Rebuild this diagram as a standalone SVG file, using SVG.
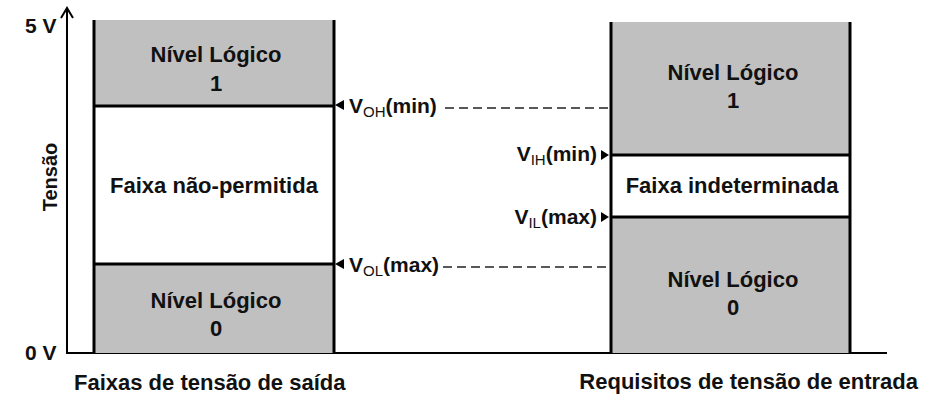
<svg xmlns="http://www.w3.org/2000/svg" width="930" height="417" viewBox="0 0 930 417">
<style>
.t{font-family:"Liberation Sans",Arial,sans-serif;font-weight:bold;fill:#111;}
.c{text-anchor:middle;font-size:22px;}
.lbl{font-size:21px;}
.sub{font-size:15px;font-weight:normal;}
.gray{fill:#c0c0c0;}
.bd{stroke:#000;stroke-width:3;fill:none;}
.dash{stroke:#222;stroke-width:1.5;stroke-dasharray:9,5;fill:none;}
.tri{fill:#000;}
</style>
<rect width="930" height="417" fill="#fff"/>
<g id="axis">
<line x1="67" y1="353" x2="67" y2="8" stroke="#000" stroke-width="2"/>
<polyline points="61,18 67,8 73,18" fill="none" stroke="#000" stroke-width="2"/>
<line x1="66" y1="353" x2="887" y2="353" stroke="#000" stroke-width="2"/>
<text class="t" x="25" y="33" font-size="21">5 V</text>
<text class="t" x="25" y="360" font-size="21">0 V</text>
<text class="t" font-size="20" text-anchor="middle" transform="translate(57,177) rotate(-90)">Tensão</text>
</g>
<g id="output-box">
<rect class="gray" x="94" y="20" width="240" height="86"/>
<rect class="gray" x="94" y="264" width="240" height="89"/>
<line class="bd" x1="94" y1="20" x2="94" y2="354"/>
<line class="bd" x1="334" y1="20" x2="334" y2="354"/>
<line class="bd" x1="94" y1="106" x2="334" y2="106"/>
<line class="bd" x1="94" y1="264" x2="334" y2="264"/>
<text class="t c" x="216" y="62">Nível Lógico</text>
<text class="t c" x="216" y="91">1</text>
<text class="t c" x="214" y="193">Faixa não-permitida</text>
<text class="t c" x="216" y="308">Nível Lógico</text>
<text class="t c" x="216" y="336">0</text>
<text class="t" x="74" y="390" font-size="22">Faixas de tensão de saída</text>
</g>
<g id="input-box">
<rect class="gray" x="611" y="22" width="239" height="133"/>
<rect class="gray" x="611" y="217" width="239" height="136"/>
<line class="bd" x1="611" y1="22" x2="611" y2="354"/>
<line class="bd" x1="850" y1="22" x2="850" y2="354"/>
<line class="bd" x1="611" y1="155" x2="850" y2="155"/>
<line class="bd" x1="611" y1="217" x2="850" y2="217"/>
<text class="t c" x="733" y="80">Nível Lógico</text>
<text class="t c" x="733" y="108">1</text>
<text class="t c" x="732" y="193">Faixa indeterminada</text>
<text class="t c" x="733" y="287">Nível Lógico</text>
<text class="t c" x="733" y="315">0</text>
<text class="t" x="918" y="389" font-size="22" text-anchor="end">Requisitos de tensão de entrada</text>
</g>
<g id="connectors">
<line class="dash" x1="445" y1="108" x2="610" y2="108"/>
<line class="dash" x1="443" y1="267" x2="610" y2="267"/>
<polygon class="tri" points="335,105 344,100 344,110"/>
<polygon class="tri" points="335,264 344,259 344,269"/>
<polygon class="tri" points="609,155 601,150 601,160"/>
<polygon class="tri" points="609,217 601,212 601,222"/>
</g>
<g id="labels">
<text class="t lbl" x="349" y="113">V<tspan class="sub" dy="4">OH</tspan><tspan dy="-4">(min)</tspan></text>
<text class="t lbl" x="349" y="272">V<tspan class="sub" dy="4">OL</tspan><tspan dy="-4">(max)</tspan></text>
<text class="t lbl" x="597" y="161" text-anchor="end">V<tspan class="sub" dy="4">IH</tspan><tspan dy="-4">(min)</tspan></text>
<text class="t lbl" x="597" y="224" text-anchor="end">V<tspan class="sub" dy="4">IL</tspan><tspan dy="-4">(max)</tspan></text>
</g>
</svg>
